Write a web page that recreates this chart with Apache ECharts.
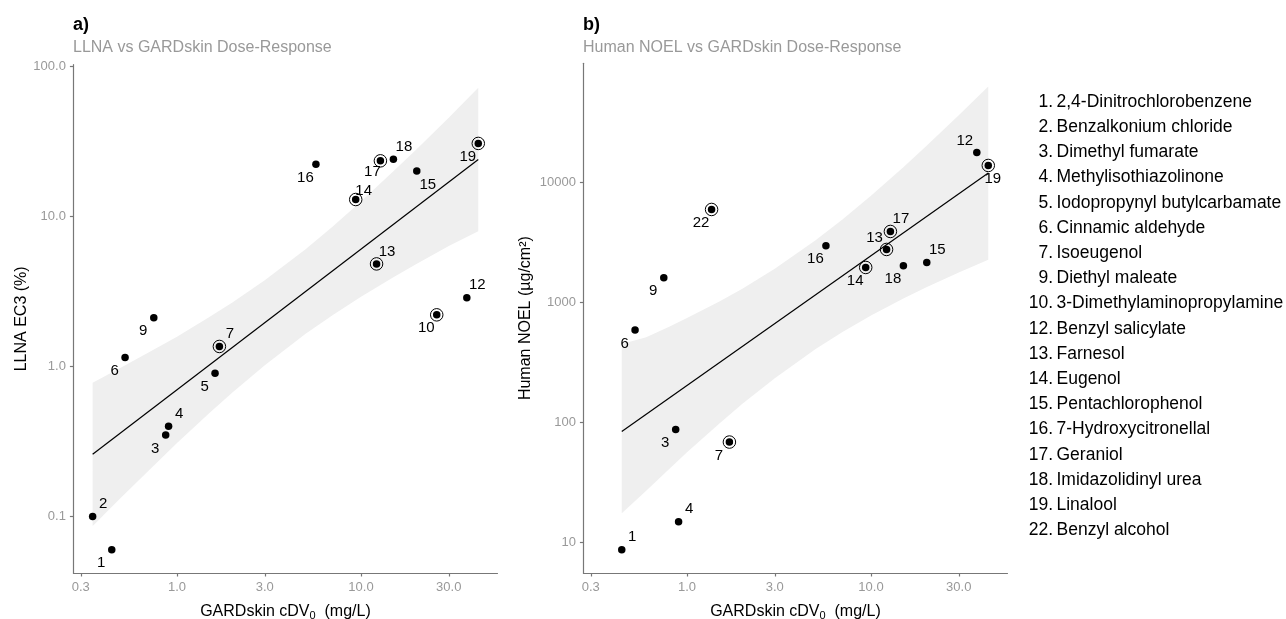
<!DOCTYPE html>
<html><head><meta charset="utf-8">
<script src="https://cdn.jsdelivr.net/npm/echarts@6/dist/echarts.min.js"></script>
<style>html,body{margin:0;padding:0;background:#fff}#c{width:1286px;height:619px}</style>
</head><body><div id="c"></div>
<script>
// ---------------- DATA ----------------
const ids   = [1,2,3,4,5,6,7,9,10,12,13,14,15,16,17,18,19,22];
const names = ['2,4-Dinitrochlorobenzene','Benzalkonium chloride','Dimethyl fumarate','Methylisothiazolinone',
  'Iodopropynyl butylcarbamate','Cinnamic aldehyde','Isoeugenol','Diethyl maleate','3-Dimethylaminopropylamine',
  'Benzyl salicylate','Farnesol','Eugenol','Pentachlorophenol','7-Hydroxycitronellal','Geraniol',
  'Imidazolidinyl urea','Linalool','Benzyl alcohol'];
// GARDskin cDV0 (mg/L)
const cdv0  = [0.442,0.348,0.868,0.90,1.61,0.522,1.70,0.748,25.8,37.6,12.15,9.36,20.1,5.69,12.75,15.0,43.4,1.36];
// LLNA EC3 (%)
const llnaEC3 = [0.06,0.10,0.35,0.40,0.90,1.15,1.36,2.11,2.21,2.87,4.83,12.98,20.1,22.3,23.5,24.1,30.7,null];
// Human NOEL (µg/cm2)
const noel  = [8.7,null,87.5,14.9,null,589,68.7,1607,null,17780,2766,1958,2154,2969,3906,2023,13860,5957];
const llnaCircled = [7,10,13,14,17,19];
const noelCircled = [7,13,14,17,19,22];

// regression lines
const aFitX = [0.348, 43.4];
const aFitY = [0.26, 24.0];
const bFitX = [0.442, 43.4];
const bFitY = [84, 11970];
// confidence bands
const aBandX     = [0.348,0.5,0.7,1,1.5,2,3,5,7,10,15,20,30,43.4];
const aBandUpper = [0.78,0.99,1.24,1.58,2.14,2.67,3.76,6.05,8.55,12.6,20.0,28.0,45.6,72.1];
const aBandLower = [0.0865,0.135,0.202,0.309,0.49,0.67,1.02,1.65,2.20,2.92,3.94,4.83,6.35,7.98];
const bBandX     = [0.442,0.6,0.8,1,1.5,2,3,5,7,10,15,20,30,43.4];
const bBandUpper = [450,513,627,741,1020,1304,1910,3300,4910,7740,13400,20100,36300,63100];
const bBandLower = [17.5,27.0,41.0,56.4,98,143,234,409,568,778,1080,1340,1780,2270];

// ticks
const xTicks = [0.3,1,3,10,30];
const xTickLabels = ['0.3','1.0','3.0','10.0','30.0'];
const aYTicks = [0.1,1,10,100];
const aYTickLabels = ['0.1','1.0','10.0','100.0'];
const bYTicks = [10,100,1000,10000];
const bYTickLabels = ['10','100','1000','10000'];
// axis ranges
const xRange = [0.2735, 55.2];
const aYRange = [0.042, 102.8];
const bYRange = [5.57, 98400];

// ---------------- STYLE ----------------
const FONT = '"Liberation Sans", Arial, sans-serif';
const labelDirA = {1:'bl',2:'tr',3:'bl',4:'tr',5:'bl',6:'bl',7:'tr',9:'bl',10:'bl',12:'tr',13:'tr',14:'trs',15:'br',16:'bl',17:'bls',18:'tr',19:'bl'};
const labelDirB = {1:'tr',3:'bl',4:'tr',6:'bl',7:'bl',9:'bl',12:'tl',13:'tl',14:'bl',15:'tr',16:'bl',17:'tr',18:'bl',19:'b',22:'bl'};
const OFF = {tr:[10.5,-12.5], bl:[-10.5,13.5], br:[11,13.5], tl:[-12,-12], trs:[8,-9], bls:[-8,11.5], b:[4.5,13.5]};
const DOT = 7.5;

const L = v => Math.log10(v);
const fmt = (ticks, labels) => v => { for (let i=0;i<ticks.length;i++) if (Math.abs(L(ticks[i])-v) < 1e-6) return labels[i]; return ''; };

function xAxisCfg(gi){
  return {gridIndex:gi, type:'value', min:L(xRange[0]), max:L(xRange[1]),
    axisLine:{show:true, onZero:false, lineStyle:{color:'#777', width:1.2}},
    axisTick:{show:true, customValues:xTicks.map(L), length:3.5, lineStyle:{color:'#777', width:1.2}},
    axisLabel:{customValues:xTicks.map(L), formatter:fmt(xTicks,xTickLabels), color:'#999', fontSize:13, fontFamily:FONT, margin:7.5},
    splitLine:{show:false},
    name:'{t|GARDskin cDV}{s|0}{t|  (mg/L)}', nameLocation:'middle', nameGap:28.5,
    nameTextStyle:{rich:{t:{fontSize:16, color:'#000', fontFamily:FONT, lineHeight:20},
                         s:{fontSize:11, color:'#000', fontFamily:FONT, verticalAlign:'bottom', lineHeight:14}}}
  };
}
function yAxisCfg(gi, range, ticks, labels, name, gap){
  return {gridIndex:gi, type:'value', min:L(range[0]), max:L(range[1]),
    axisLine:{show:true, onZero:false, lineStyle:{color:'#777', width:1.2}},
    axisTick:{show:true, customValues:ticks.map(L), length:3.5, lineStyle:{color:'#777', width:1.2}},
    axisLabel:{customValues:ticks.map(L), formatter:fmt(ticks,labels), color:'#999', fontSize:13, fontFamily:FONT, margin:7.5},
    splitLine:{show:false},
    name:name, nameLocation:'middle', nameGap:gap,
    nameTextStyle:{fontSize:16, color:'#000', fontFamily:FONT}
  };
}
function bandSeries(gi, bx, bu, bl){
  return {type:'custom', xAxisIndex:gi, yAxisIndex:gi, silent:true, z:1,
    data: bx.map((x,i)=>[L(x), L(bu[i]), L(bl[i])]),
    renderItem:(params, api)=>{
      if (params.dataIndex !== 0) return null;
      const up = bx.map((x,i)=>api.coord([L(x), L(bu[i])]));
      const lo = bx.map((x,i)=>api.coord([L(x), L(bl[i])])).reverse();
      return {type:'polygon', shape:{points:up.concat(lo)}, style:{fill:'#efefef'}};
    }};
}
function fitSeries(gi, fx, fy){
  return {type:'line', xAxisIndex:gi, yAxisIndex:gi, silent:true, z:2, symbol:'none',
    data: fx.map((x,i)=>[L(x), L(fy[i])]), lineStyle:{color:'#000', width:1.2}};
}
function ringSeries(gi, vals, circled){
  const d = [];
  ids.forEach((id,i)=>{ if (vals[i]!=null && circled.includes(id)) d.push([L(cdv0[i]), L(vals[i])]); });
  return {type:'scatter', xAxisIndex:gi, yAxisIndex:gi, silent:true, z:3, symbol:'circle', symbolSize:12.5,
    itemStyle:{color:'rgba(0,0,0,0)', borderColor:'#000', borderWidth:1, opacity:1}, data:d};
}
function dotSeries(gi, vals, dirs){
  const d = [];
  ids.forEach((id,i)=>{ if (vals[i]!=null) {
    const o = OFF[dirs[id]];
    d.push({value:[L(cdv0[i]), L(vals[i])], name:String(id),
      label:{show:true, position:[DOT/2 + o[0], DOT/2 + o[1]], align:'center', verticalAlign:'middle'}});
  }});
  return {type:'scatter', xAxisIndex:gi, yAxisIndex:gi, silent:true, z:4, symbol:'circle', symbolSize:DOT,
    itemStyle:{color:'#000', opacity:1},
    label:{show:true, formatter:p=>p.name, color:'#000', fontSize:15, fontFamily:FONT,
      align:'center', verticalAlign:'middle', textBorderWidth:0},
    labelLayout:{hideOverlap:false}, data:d};
}

const graphics = [
  {type:'text', left:73, top:16, style:{text:'a)', font:'bold 18px '+FONT, fill:'#000'}},
  {type:'text', left:73, top:40, style:{text:'LLNA vs GARDskin Dose-Response', font:'16px '+FONT, fill:'#999'}},
  {type:'text', left:583, top:16, style:{text:'b)', font:'bold 18px '+FONT, fill:'#000'}},
  {type:'text', left:583, top:40, style:{text:'Human NOEL vs GARDskin Dose-Response', font:'16px '+FONT, fill:'#999'}}
];
ids.forEach((id,i)=>{
  const y = 102 + 25.2*i;
  graphics.push({type:'text', x:1053, y:y, style:{text:id+'.', font:'17.5px '+FONT, fill:'#000', textAlign:'right', textVerticalAlign:'middle'}});
  graphics.push({type:'text', x:1056.5, y:y, style:{text:names[i], font:'17.5px '+FONT, fill:'#000', textAlign:'left', textVerticalAlign:'middle'}});
});

const chart = echarts.init(document.getElementById('c'), null, {renderer:'canvas'});
chart.setOption({
  backgroundColor:'#fff',
  animation:false,
  grid:[
    {left:73.4, top:64.7, width:424.1, height:508.3, outerBoundsMode:'none', containLabel:false},
    {left:583.4, top:63.3, width:424.1, height:509.7, outerBoundsMode:'none', containLabel:false}
  ],
  xAxis:[xAxisCfg(0), xAxisCfg(1)],
  yAxis:[
    yAxisCfg(0, aYRange, aYTicks, aYTickLabels, 'LLNA EC3 (%)', 43),
    yAxisCfg(1, bYRange, bYTicks, bYTickLabels, 'Human NOEL (µg/cm²)', 50)
  ],
  graphic:graphics,
  series:[
    bandSeries(0, aBandX, aBandUpper, aBandLower),
    fitSeries(0, aFitX, aFitY),
    ringSeries(0, llnaEC3, llnaCircled),
    dotSeries(0, llnaEC3, labelDirA),
    bandSeries(1, bBandX, bBandUpper, bBandLower),
    fitSeries(1, bFitX, bFitY),
    ringSeries(1, noel, noelCircled),
    dotSeries(1, noel, labelDirB)
  ]
});
</script></body></html>
